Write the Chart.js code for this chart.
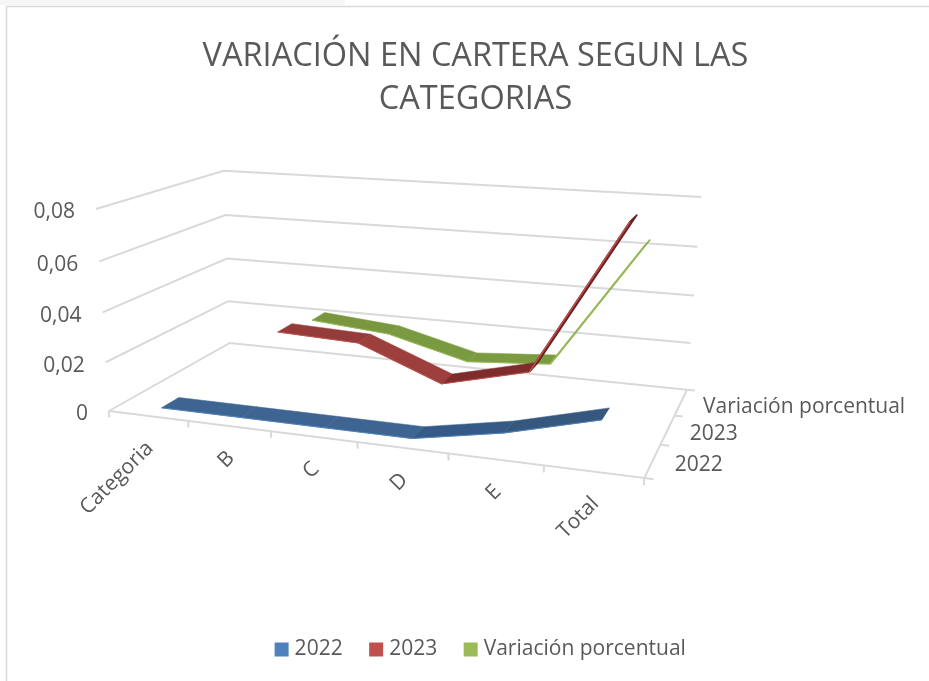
<!DOCTYPE html>
<html lang="es">
<head>
<meta charset="utf-8">
<title>Variación en cartera</title>
<script src="https://cdn.jsdelivr.net/npm/chart.js@4"></script>
<style>html,body{margin:0;padding:0;background:#fff;overflow:hidden}canvas{display:block}</style>
</head>
<body>
<canvas id="c" width="929" height="681"></canvas>
<script>
const categories = ['Categoria', 'B', 'C', 'D', 'E', 'Total'];
const values2022 = [0, 0, 0, 0, 0.0064, 0.0155];
const values2023 = [null, 0.0254, 0.0241, 0.0108, 0.0193, 0.0794];
const valuesVar = [null, 0.0217, 0.0188, 0.0101, 0.0126, 0.0635];
const seriesNames = ['2022', '2023', 'Variación porcentual'];
const valueTicks = [0, 0.02, 0.04, 0.06, 0.08];
const valueTickLabels = ['0', '0,02', '0,04', '0,06', '0,08'];
const seriesColors = ['#4f81bd', '#c0504d', '#9bbb59'];
const segmentColors = [
  [null, '#3e6591', '#3e6591', '#3e6591', '#355a87', '#36587f'],
  [null, null, '#953b39', '#9c3f3d', '#7f2d2c', '#6b2322'],
  [null, null, '#7a963f', '#7a9a41', '#7c9a3f', '#8fb050']
];
const allSeries = [values2022, values2023, valuesVar];

const TEXT = '#595959', GRID = '#d9d9d9';
const FONT = '"Open Sans", sans-serif';

// Perspective camera of the 3D box: u = along categories, d = depth, v = height (all 0..1)
const CAM = {
  o: [109, 411, 1],
  u: [559.6 - 109, 414.7 - 411, 0.8676 - 1],
  d: [272.1 - 109, 405.8 - 411, 1.1832 - 1],
  v: [91.6 - 109, 199.4 - 411, 0.954 - 1]
};
function project(u, d, v) {
  const h = [0, 1, 2].map(k => CAM.o[k] + u * CAM.u[k] + d * CAM.d[k] + v * CAM.v[k]);
  return { x: h[0] / h[2], y: h[1] / h[2] };
}
const vMax = valueTicks[valueTicks.length - 1];
const catU = i => (i + 0.5) / categories.length;
const DEPTH_HALF = 0.0667;
const serD = s => (s + 0.5) / seriesNames.length;

const datasets = [];
function addPoly(pts, color, edge) {
  datasets.push({ data: pts, showLine: true, fill: 'shape', backgroundColor: color, borderColor: color,
    borderWidth: edge, borderJoinStyle: 'round', pointRadius: 0, tension: 0, clip: false });
}
function addLine(pts, color, width) {
  datasets.push({ data: pts, showLine: true, fill: false, borderColor: color, borderWidth: width,
    pointRadius: 0, tension: 0, clip: false });
}

// Walls, floor and ticks
valueTicks.forEach(t => {
  const v = t / vMax;
  addLine([project(0, 0, v), project(0, 1, v), project(1, 1, v)], GRID, 2);
});
addLine([project(0, 0, 0), project(1, 0, 0), project(1, 1, 0)], GRID, 2);
for (let i = 0; i <= categories.length; i++) {
  const u = i / categories.length;
  addLine([project(u, 0, 0), project(u, 0, -0.033)], GRID, 2);
}
for (let s = 0; s <= seriesNames.length; s++) {
  const d = s / seriesNames.length;
  addLine([project(1, d, 0), project(1.015, d, 0)], GRID, 2);
}

// Ribbons: back series first
for (let s = allSeries.length - 1; s >= 0; s--) {
  const vals = allSeries[s], d = serD(s);
  for (let i = 1; i < vals.length; i++) {
    if (vals[i] === null || vals[i - 1] === null) continue;
    const u0 = catU(i - 1), u1 = catU(i), v0 = vals[i - 1] / vMax, v1 = vals[i] / vMax;
    const a = project(u0, d - DEPTH_HALF, v0), b = project(u1, d - DEPTH_HALF, v1),
          c = project(u1, d + DEPTH_HALF, v1), e = project(u0, d + DEPTH_HALF, v0);
    const steep = i === vals.length - 1 && s > 0;
    addPoly([a, b, c, e, a], segmentColors[s][i], steep ? 1.6 : 0.5);
    addLine([a, b], seriesColors[s], steep ? 1.4 : 1);
  }
}
datasets.forEach((ds, i) => { ds.order = datasets.length - i; });

const framePlugin = {
  id: 'frame',
  afterLayout(chart) {
    // the reference legend sits a little right of the title's centre
    chart.legend.left += 7;
    chart.legend.right += 7;
  },
  beforeDraw(chart) {
    const ctx = chart.ctx;
    ctx.save();
    ctx.fillStyle = '#ffffff';
    ctx.fillRect(0, 0, chart.width, chart.height);
    ctx.fillStyle = '#f6f6f6';
    ctx.fillRect(0, 0, 345, 5);
    ctx.strokeStyle = GRID;
    ctx.lineWidth = 1.5;
    ctx.beginPath();
    ctx.moveTo(6.5, chart.height);
    ctx.lineTo(6.5, 6.5);
    ctx.lineTo(chart.width, 6.5);
    ctx.stroke();
    ctx.restore();
  }
};
const axisLabelPlugin = {
  id: 'axisLabels',
  afterDatasetsDraw(chart) {
    const ctx = chart.ctx, sx = chart.scales.x, sy = chart.scales.y;
    const at = p => ({ x: sx.getPixelForValue(p.x), y: sy.getPixelForValue(p.y) });
    ctx.save();
    ctx.fillStyle = TEXT;
    ctx.font = '21px ' + FONT;
    ctx.textBaseline = 'middle';
    ctx.textAlign = 'right';
    valueTicks.forEach((t, i) => {
      const p = at(project(0, 0, t / vMax));
      ctx.fillText(valueTickLabels[i], p.x - 21, p.y + 3.5);
    });
    categories.forEach((name, i) => {
      const p = at(project(catU(i), 0, 0));
      ctx.save();
      ctx.translate(p.x + 2, p.y + 29);
      ctx.rotate(-Math.PI / 4);
      ctx.fillText(name, 0, 0);
      ctx.restore();
    });
    ctx.textAlign = 'left';
    seriesNames.forEach((name, s) => {
      const p = at(project(1, serD(s), 0));
      ctx.fillText(name, p.x + 22, p.y + 4.5);
    });
    ctx.restore();
  }
};

const chart = new Chart(document.getElementById('c'), {
  type: 'scatter',
  data: { datasets },
  plugins: [framePlugin, axisLabelPlugin],
  options: {
    responsive: false,
    animation: false,
    events: [],
    layout: { padding: { left: 22, right: 0, top: 0, bottom: 11 } },
    scales: {
      x: { type: 'linear', display: false, min: 0, max: 929 },
      y: { type: 'linear', display: false, reverse: true, min: 0, max: 681 }
    },
    plugins: {
      tooltip: { enabled: false },
      title: {
        display: true,
        text: ['VARIACIÓN EN CARTERA SEGUN LAS', 'CATEGORIAS'],
        color: TEXT,
        font: { family: FONT, size: 32.5, weight: 'normal', lineHeight: 1.32 },
        padding: { top: 35, bottom: 0 }
      },
      legend: {
        display: true,
        position: 'bottom',
        labels: {
          color: TEXT,
          font: { family: FONT, size: 21 },
          usePointStyle: true,
          boxWidth: 5,
          boxHeight: 14,
          padding: 31,
          generateLabels: () => seriesNames.map((name, i) => ({
            text: name, fillStyle: seriesColors[i], strokeStyle: seriesColors[i],
            lineWidth: 0, pointStyle: 'rect', hidden: false, fontColor: TEXT
          }))
        }
      }
    }
  }
});
// Make the hidden scales read in page pixels, whatever space title and legend took
const area = chart.chartArea;
chart.options.scales.x.min = area.left;
chart.options.scales.x.max = area.right;
chart.options.scales.y.min = area.top;
chart.options.scales.y.max = area.bottom;
chart.update('none');
</script>
</body>
</html>
